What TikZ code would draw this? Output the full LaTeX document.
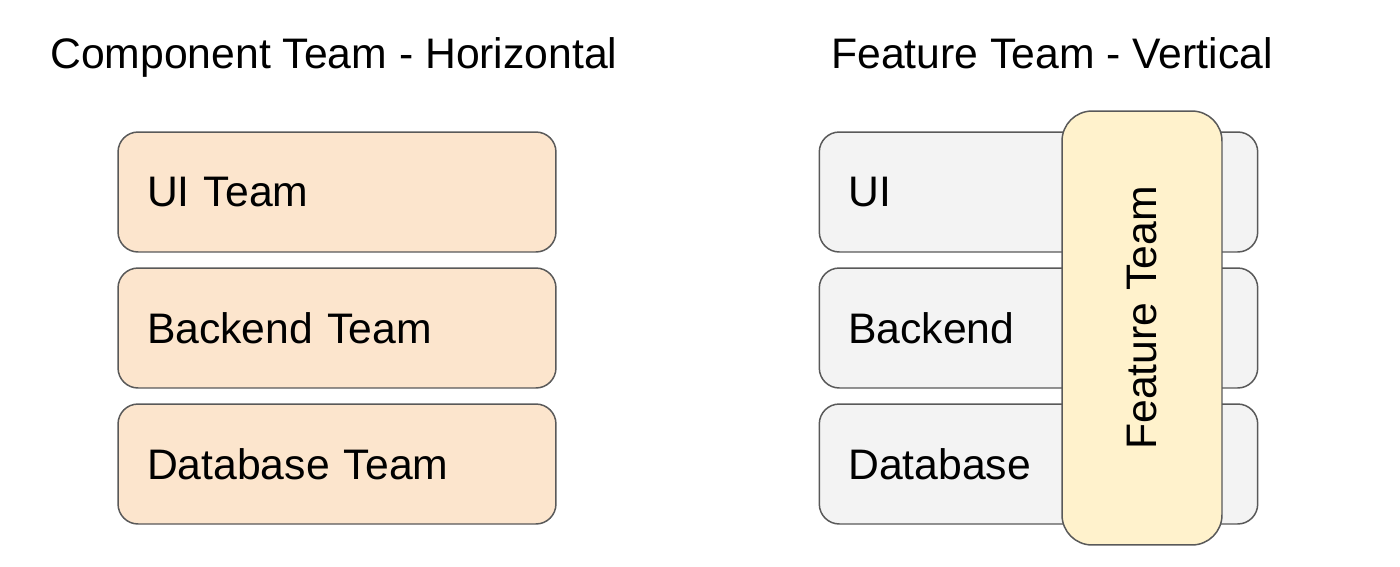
\documentclass[tikz,border=0pt]{standalone}
\usepackage{fontspec}
\setmainfont{Liberation Sans}
\usetikzlibrary{positioning}
\definecolor{CompClr}{HTML}{FCE5CD}
\definecolor{LayerClr}{HTML}{F3F3F3}
\definecolor{FeatClr}{HTML}{FFF2CC}
\definecolor{EdgeClr}{HTML}{595959}

\begin{document}
\begin{tikzpicture}[x=0.02cm,y=-0.02cm,
  title/.style={anchor=base west,inner sep=0pt,font=\fontsize{24.3}{29}\selectfont},
  layer/.style={draw=EdgeClr,line width=0.85pt,rounded corners=0.4cm,
    minimum height=2.4cm,text width=7.6cm,inner xsep=0.58cm,align=left,
    font=\fontsize{24.3}{29}\selectfont},
  comp/.style={layer,fill=CompClr},
  base/.style={layer,fill=LayerClr,text width=7.61cm},
  feat/.style={draw=EdgeClr,line width=0.85pt,fill=FeatClr,rounded corners=0.6cm,
    rotate=90,minimum width=8.68cm,minimum height=3.2cm,
    font=\fontsize{24.3}{29}\selectfont}]
\useasboundingbox (0,0) rectangle (1400,566);

% left: horizontal component teams
\node[title] (tleft) at (50,68) {Component Team - Horizontal};
\node[comp] (ui) at (337,192) {UI Team};
\node[comp] (backend) at (337,328) {Backend Team};
\node[comp] (database) at (337,464) {Database Team};

% right: layers crossed by one feature team
\node[title] (tright) at (831,68) {Feature Team - Vertical};
\node[base] (uiR) at (1038.5,192) {UI};
\node[base] (backendR) at (1038.5,328) {Backend};
\node[base] (databaseR) at (1038.5,464) {Database};

\node[feat] (feature) at (1142,328) {\hspace{0.4cm}Feature Team};

\end{tikzpicture}
\end{document}
